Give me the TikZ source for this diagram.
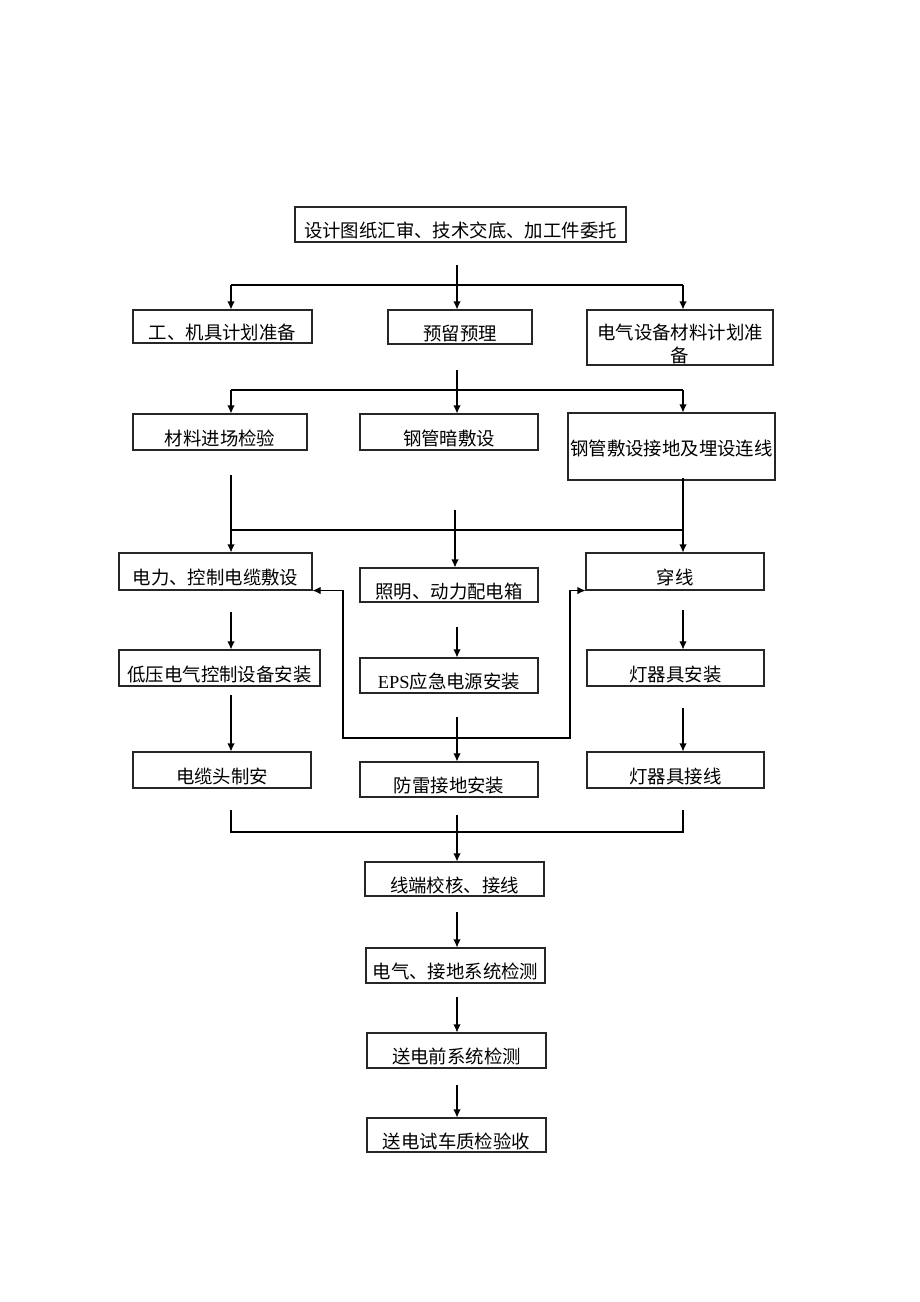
\documentclass[tikz,border=0pt]{standalone}
\usepackage{fontspec}
\setmainfont{Liberation Serif}
\newfontfamily\cjk{Noto Sans CJK SC}
\usetikzlibrary{arrows.meta}
\tikzset{%
  >={Latex[length=6pt,width=5.5pt]}, % default arrow style
  stepbox/.style={draw=black!85, line width=0.8pt, inner sep=0pt,
    font=\cjk\fontsize{13.8pt}{17.25pt}\selectfont,
    text height=19.5pt, text depth=0pt, align=center},
  flow/.style={line width=0.8pt}
}
\newcommand{\stepnode}[7][]{% options, name, left, top, right, bottom, text
  \node[stepbox, #1, minimum width={(#5-#3)*0.75pt}, minimum height={(#6-#4)*0.75pt}]
    (#2) at ({(#3+#5)/2},{(#4+#6)/2}) {#7};
}
\begin{document}
\begin{tikzpicture}[x=0.75pt,y=-0.75pt]
  \useasboundingbox (0,0) rectangle (920,1302);
  % boxes
  \stepnode{top}{295}{207}{626}{242}{设计图纸汇审、技术交底、加工件委托}
  \stepnode{tools}{133}{310}{312}{343}{工、机具计划准备}
  \stepnode{embed}{388}{310}{532}{344}{预留预理}
  \stepnode[text height=37.5pt]{plan}{587}{310}{773}{365}{电气设备材料计划准\\备}
  \stepnode{check}{133}{414}{307}{450}{材料进场检验}
  \stepnode{pipe}{360}{414}{538}{450}{钢管暗敷设}
  \stepnode[text height=12.8pt]{ground}{568}{413}{775}{480}{钢管敷设接地及埋设连线}
  \stepnode{cable}{119}{553}{312}{590}{电力、控制电缆敷设}
  \stepnode{panel}{360}{568}{538}{602}{照明、动力配电箱}
  \stepnode{wire}{586}{553}{764}{590}{穿线}
  \stepnode{lowv}{119}{650}{320}{686}{低压电气控制设备安装}
  \stepnode{eps}{360}{658}{538}{693}{{\rmfamily EPS}应急电源安装}
  \stepnode{lamp}{587}{650}{764}{686}{灯器具安装}
  \stepnode{head}{133}{752}{311}{788}{电缆头制安}
  \stepnode{bolt}{360}{762}{538}{797}{防雷接地安装}
  \stepnode{lampw}{587}{752}{764}{788}{灯器具接线}
  \stepnode{term}{365}{862}{544}{896}{线端校核、接线}
  \stepnode{test}{366}{948}{545}{983}{电气、接地系统检测}
  \stepnode{pretest}{367}{1033}{546}{1068}{送电前系统检测}
  \stepnode{accept}{367}{1118}{546}{1152}{送电试车质检验收}
  % top to second row
  \coordinate (t0) at (457,265);
  \coordinate (t1) at (231,285);
  \coordinate (t2) at (683,285);
  \draw[flow,->] (t0) -- (t0 |- embed.north);
  \draw[flow] (t1) -- (t2);
  \draw[flow,->] (t1) -- (t1 |- tools.north);
  \draw[flow,->] (t2) -- (t2 |- plan.north);
  % second to third row
  \coordinate (u0) at (457,370);
  \coordinate (u1) at (231,390);
  \coordinate (u2) at (683,390);
  \draw[flow,->] (u0) -- (u0 |- pipe.north);
  \draw[flow] (u1) -- (u2);
  \draw[flow,->] (u1) -- (u1 |- check.north);
  \draw[flow,->] (u2) -- (u2 |- ground.north);
  % third to fourth row
  \coordinate (v0) at (455,510);
  \coordinate (v1) at (231,475);
  \coordinate (v2) at (683,478);
  \coordinate (v3) at (231,530);
  \coordinate (v4) at (683,530);
  \draw[flow,->] (v0) -- (v0 |- panel.north);
  \draw[flow,->] (v1) -- (v1 |- cable.north);
  \draw[flow,->] (v2) -- (v2 |- wire.north);
  \draw[flow] (v3) -- (v4);
  % fourth to fifth row
  \coordinate (a1) at (231,612);
  \coordinate (a2) at (457,627);
  \coordinate (a3) at (683,610);
  \draw[flow,->] (a1) -- (a1 |- lowv.north);
  \draw[flow,->] (a2) -- (a2 |- eps.north);
  \draw[flow,->] (a3) -- (a3 |- lamp.north);
  % fifth to sixth row
  \coordinate (b1) at (231,695);
  \coordinate (b2) at (457,717);
  \coordinate (b3) at (683,708);
  \draw[flow,->] (b1) -- (b1 |- head.north);
  \draw[flow,->] (b2) -- (b2 |- bolt.north);
  \draw[flow,->] (b3) -- (b3 |- lampw.north);
  % loop round the middle column
  \coordinate (w1) at (343,738);
  \coordinate (w2) at (570,738);
  \draw[flow,<->] (cable.south east) -| (w1) -- (w2) |- (wire.south west);
  % join into the bottom column
  \coordinate (x1) at (231,810);
  \coordinate (x2) at (683,810);
  \coordinate (x3) at (231,832);
  \coordinate (x0) at (457,815);
  \draw[flow] (x1) -- (x3) -| (x2);
  \draw[flow,->] (x0) -- (x0 |- term.north);
  % bottom column
  \coordinate (y1) at (457,912);
  \coordinate (y2) at (457,997);
  \coordinate (y3) at (457,1085);
  \draw[flow,->] (y1) -- (y1 |- test.north);
  \draw[flow,->] (y2) -- (y2 |- pretest.north);
  \draw[flow,->] (y3) -- (y3 |- accept.north);
\end{tikzpicture}
\end{document}
